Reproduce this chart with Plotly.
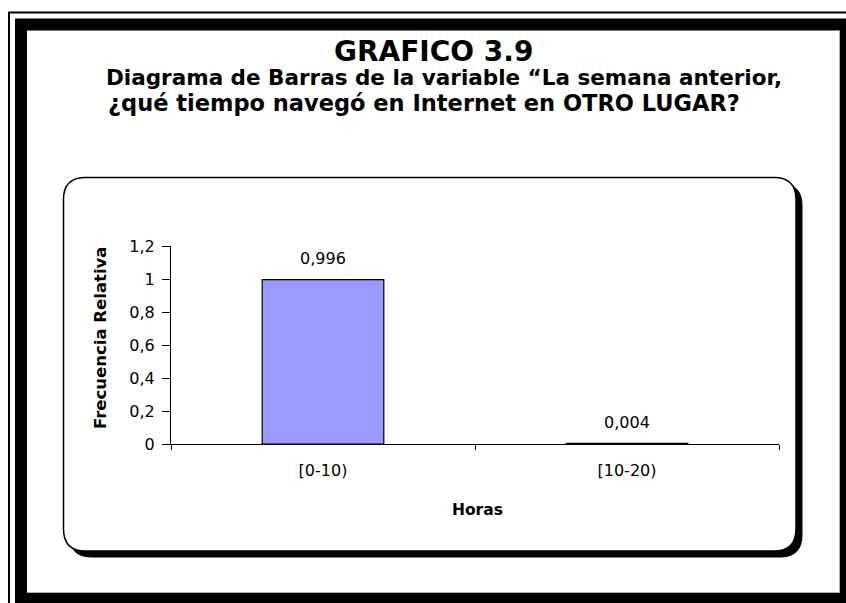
import plotly.graph_objects as go

# ---- data ----
categories = ["[0-10)", "[10-20)"]
rel_freq = [0.996, 0.004]
value_labels = ["0,996", "0,004"]
y_ticks = [0, 0.2, 0.4, 0.6, 0.8, 1.0, 1.2]
y_tick_labels = ["0", "0,2", "0,4", "0,6", "0,8", "1", "1,2"]

title_main = "GRAFICO 3.9"
title_line1 = "Diagrama de Barras de la variable “La semana anterior,"
title_line2 = "¿qué tiempo navegó en Internet en OTRO LUGAR?"
x_title = "Horas"
y_title = "Frecuencia Relativa"

# ---- geometry (pixels) ----
W, H = 846, 603
L, R, T, B = 171, 779, 246, 444


def px(x):
    return (x - L) / (R - L)


def py(y):
    return (B - y) / (B - T)


def rrect_path(x0, y0, x1, y1, r):
    pts = [
        ("M", (x0 + r, y0)), ("L", (x1 - r, y0)),
        ("Q", (x1, y0), (x1, y0 + r)), ("L", (x1, y1 - r)),
        ("Q", (x1, y1), (x1 - r, y1)), ("L", (x0 + r, y1)),
        ("Q", (x0, y1), (x0, y1 - r)), ("L", (x0, y0 + r)),
        ("Q", (x0, y0), (x0 + r, y0)),
    ]
    s = ""
    for p in pts:
        cmd = p[0]
        coords = " ".join(f"{px(a):.5f},{py(b):.5f}" for a, b in p[1:])
        s += f"{cmd} {coords} "
    return s + "Z"


FONT = "DejaVu Sans"

fig = go.Figure()
fig.add_trace(go.Bar(
    x=categories, y=rel_freq,
    marker=dict(color="#9999FF", line=dict(color="black", width=1.2)),
    hoverinfo="skip",
))

shapes = []
# outer thin frame line
shapes.append(dict(type="rect", xref="paper", yref="paper",
                   x0=px(9), x1=px(900), y0=py(12.5), y1=py(700),
                   line=dict(color="black", width=2), layer="below"))
# thick frame
shapes.append(dict(type="rect", xref="paper", yref="paper",
                   x0=px(21), x1=px(846), y0=py(24.5), y1=py(599),
                   line=dict(color="black", width=12), layer="below"))
# thin grey inner edge on right/bottom of thick frame
shapes.append(dict(type="line", xref="paper", yref="paper",
                   x0=px(839.5), x1=px(839.5), y0=py(31), y1=py(592.5),
                   line=dict(color="#b0b0b0", width=1), layer="below"))
shapes.append(dict(type="line", xref="paper", yref="paper",
                   x0=px(27), x1=px(839.5), y0=py(592.5), y1=py(592.5),
                   line=dict(color="#b0b0b0", width=1), layer="below"))
# rounded box shadow
shapes.append(dict(type="path", xref="paper", yref="paper",
                   path=rrect_path(69.5, 183.5, 802, 557, 22),
                   fillcolor="black", line=dict(color="black", width=1), layer="below"))
# rounded box
shapes.append(dict(type="path", xref="paper", yref="paper",
                   path=rrect_path(63.5, 177.5, 796, 551, 22),
                   fillcolor="white", line=dict(color="black", width=1.5), layer="below"))

annotations = [
    dict(text=f"<b>{title_main}</b>", xref="paper", yref="paper",
         x=px(433), y=py(52), xanchor="center", yanchor="middle", showarrow=False,
         font=dict(family=FONT, size=28, color="black")),
    dict(text=f"<b>{title_line1}</b>", xref="paper", yref="paper",
         x=px(104), y=py(77.5), xanchor="left", yanchor="middle", showarrow=False,
         font=dict(family=FONT, size=21.5, color="black")),
    dict(text=f"<b>{title_line2}</b>", xref="paper", yref="paper",
         x=px(106), y=py(102.5), xanchor="left", yanchor="middle", showarrow=False,
         font=dict(family=FONT, size=22.5, color="black")),
    dict(text=f"<b>{x_title}</b>", xref="paper", yref="paper",
         x=px(477), y=py(510), xanchor="center", yanchor="middle", showarrow=False,
         font=dict(family=FONT, size=15.5, color="black")),
    dict(text=f"<b>{y_title}</b>", xref="paper", yref="paper", textangle=-90,
         x=px(100), y=py(338), xanchor="center", yanchor="middle", showarrow=False,
         font=dict(family=FONT, size=16.5, color="black")),
]
for c, v, lab in zip(categories, rel_freq, value_labels):
    annotations.append(dict(text=lab, x=c, y=v, xref="x", yref="y",
                            yshift=21, xanchor="center", yanchor="middle",
                            showarrow=False,
                            font=dict(family=FONT, size=16, color="black")))

fig.update_layout(
    width=W, height=H,
    margin=dict(l=L, r=W - R, t=T, b=H - B, pad=0),
    paper_bgcolor="white", plot_bgcolor="white",
    separators=",.",
    bargap=0.6,
    showlegend=False,
    shapes=shapes,
    annotations=annotations,
    font=dict(family=FONT, size=16, color="black"),
    xaxis=dict(showline=True, linecolor="black", linewidth=1,
               ticks="outside", ticklen=5, tickcolor="black", tickson="boundaries",
               showgrid=False, zeroline=False, ticklabelstandoff=12,
               tickfont=dict(family=FONT, size=16, color="black")),
    yaxis=dict(range=[0, 1.2], showline=True, linecolor="black", linewidth=1,
               ticks="outside", ticklen=8, tickcolor="black",
               tickvals=y_ticks, ticktext=y_tick_labels,
               showgrid=False, zeroline=False, ticklabelstandoff=4,
               tickfont=dict(family=FONT, size=16, color="black")),
)

fig.write_html("out.html", config={"displayModeBar": False},
               post_script="document.body.style.margin='0';")
